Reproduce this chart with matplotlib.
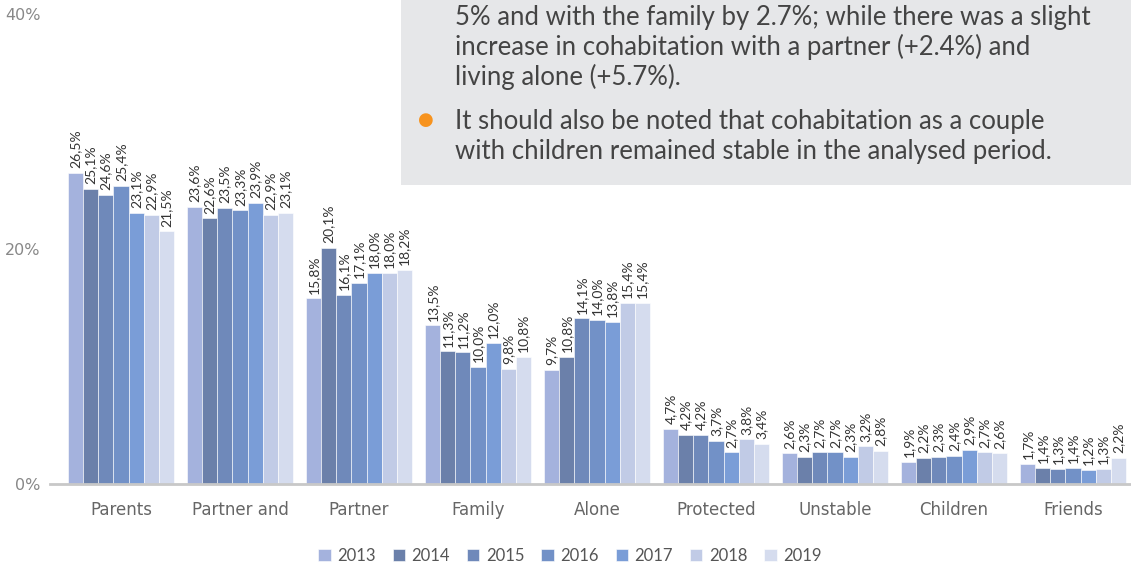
import matplotlib
matplotlib.use("Agg")
import matplotlib.pyplot as plt
import numpy as np
from matplotlib.patches import Rectangle

categories = ["Parents", "Partner and", "Partner", "Family", "Alone",
              "Protected", "Unstable", "Children", "Friends"]
years = ["2013", "2014", "2015", "2016", "2017", "2018", "2019"]
v2013 = [26.5, 23.6, 15.8, 13.5, 9.7, 4.7, 2.6, 1.9, 1.7]
v2014 = [25.1, 22.6, 20.1, 11.3, 10.8, 4.2, 2.3, 2.2, 1.4]
v2015 = [24.6, 23.5, 16.1, 11.2, 14.1, 4.2, 2.7, 2.3, 1.3]
v2016 = [25.4, 23.3, 17.1, 10.0, 14.0, 3.7, 2.7, 2.4, 1.4]
v2017 = [23.1, 23.9, 18.0, 12.0, 13.8, 2.7, 2.3, 2.9, 1.2]
v2018 = [22.9, 22.9, 18.0, 9.8, 15.4, 3.8, 3.2, 2.7, 1.3]
v2019 = [21.5, 23.1, 18.2, 10.8, 15.4, 3.4, 2.8, 2.6, 2.2]
series = [v2013, v2014, v2015, v2016, v2017, v2018, v2019]
colors = ["#a4b2dd", "#6b80aa", "#6f89ba", "#7291c7", "#7a9dd7", "#c1cbe6", "#d5dcee"]
yticks = [0, 20, 40]
ytick_labels = ["0%", "20%", "40%"]

W, H = 1131, 568
fig = plt.figure(figsize=(W / 100, H / 100), dpi=100)
ax = fig.add_axes([50 / W, 84 / H, 1 - 50 / W, (484 - 14) / H])

x = np.arange(len(categories))
bw = 0.127
n = len(series)
for i, (vals, c) in enumerate(zip(series, colors)):
    xs = x + (i - (n - 1) / 2) * bw
    ax.bar(xs, vals, width=bw, color=c, edgecolor="white", linewidth=0.4,
           label=years[i], zorder=2)
    for xi, v in zip(xs, vals):
        ax.text(xi, v + 0.4, f"{v:.1f}%".replace(".", ","), rotation=90,
                ha="center", va="bottom", fontsize=10, color="#333333",
                family="Lato")

ax.set_xlim(-0.597, 8.487)
ax.set_ylim(0, 40)
ax.set_xticks(x)
ax.set_xticklabels(categories, fontsize=12, color="#666666", family="DejaVu Sans")
ax.set_yticks(yticks)
ax.set_yticklabels(ytick_labels, fontsize=11.5, color="#888888", family="DejaVu Sans")
ax.tick_params(axis="both", length=0)
ax.tick_params(axis="x", pad=12)
ax.tick_params(axis="y", pad=7)
for s in ["top", "right", "left"]:
    ax.spines[s].set_visible(False)
ax.spines["bottom"].set_color("#c8c8c8")
ax.spines["bottom"].set_linewidth(2)
ax.spines["bottom"].set_zorder(3)

leg = fig.legend(loc="center", bbox_to_anchor=(570 / W, 1 - 556 / H), ncol=7,
                 frameon=False, prop={"family": "Lato", "size": 12},
                 handlelength=0.75, handleheight=0.75,
                 handletextpad=0.4, columnspacing=1.0, labelcolor="#555555")

# text box
fig.patches.append(Rectangle((401 / W, 1 - 185 / H), 1 - 401 / W, 185 / H,
                             transform=fig.transFigure, facecolor="#e6e7e9",
                             edgecolor="none", zorder=5))
lines = [
    (18, "5% and with the family by 2.7%; while there was a slight"),
    (47, "increase in cohabitation with a partner (+2.4%) and"),
    (77, "living alone (+5.7%)."),
    (121, "It should also be noted that cohabitation as a couple"),
    (151, "with children remained stable in the analysed period."),
]
for yy, t in lines:
    fig.text(455 / W, 1 - yy / H, t, fontsize=18.5, color="#444444",
             va="center", ha="left", zorder=6, family="Lato")
fig.text(426 / W, 1 - 120 / H, "\u25CF", fontsize=13, color="#f7931e",
         ha="center", va="center", zorder=6)

fig.savefig("out.png", dpi=100)
